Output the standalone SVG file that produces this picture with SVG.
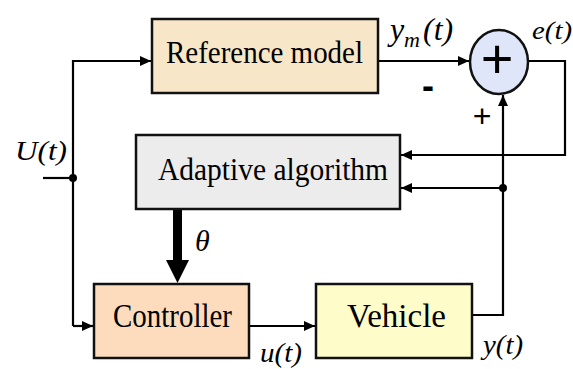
<svg xmlns="http://www.w3.org/2000/svg" width="573" height="369" viewBox="0 0 573 369">
<defs>
<style>
.box{stroke:#111;stroke-width:2.5}
.ln{fill:none;stroke:#000;stroke-width:2.2}
text{fill:#000}
.sf{font-family:'Liberation Serif','Times New Roman',Tinos,'DejaVu Serif','Noto Serif',Times,serif}
.ss{font-family:'Liberation Sans',Arial,sans-serif}
</style>
<marker id="ah" markerUnits="userSpaceOnUse" markerWidth="12" markerHeight="10" refX="11" refY="5" orient="auto">
<path d="M0,0 L11,5 L0,10 Z" fill="#000"/>
</marker>
</defs>
<rect width="573" height="369" fill="#fff"/>
<g id="connectors">
<path class="ln" d="M43,178 H73"/>
<path class="ln" d="M73,326 V61 H151" marker-end="url(#ah)"/>
<path class="ln" d="M73,326 H93" marker-end="url(#ah)"/>
<path class="ln" d="M378,61 H469" marker-end="url(#ah)"/>
<path class="ln" d="M528,61 H565 V155 H401" marker-end="url(#ah)"/>
<path class="ln" d="M472,315 H503 V95" marker-end="url(#ah)"/>
<path class="ln" d="M503,188 H401" marker-end="url(#ah)"/>
<path class="ln" d="M249,326 H315" marker-end="url(#ah)"/>
<circle cx="73" cy="178" r="4" fill="#000"/>
<circle cx="503" cy="188" r="4" fill="#000"/>
<polygon points="173,209 182,209 182,260 189,260 177.5,283 166,260 173,260" fill="#000"/>
</g>
<g id="reference-model">
<rect class="box" x="152" y="19" width="226" height="74" fill="#f8e6c8"/>
<text class="sf" font-size="32" x="166" y="63" textLength="197" lengthAdjust="spacingAndGlyphs">Reference model</text>
</g>
<g id="sum">
<ellipse cx="499" cy="62" rx="29" ry="32" fill="#dfe6fa" stroke="#111" stroke-width="2.5"/>
<text class="ss" x="497" y="78" font-size="56" text-anchor="middle">+</text>
</g>
<g id="adaptive-algorithm">
<rect class="box" x="136" y="135" width="264" height="74" fill="#ececec"/>
<text class="sf" font-size="32" x="158" y="180" textLength="230" lengthAdjust="spacingAndGlyphs">Adaptive algorithm</text>
</g>
<g id="controller">
<rect class="box" x="94" y="284" width="155" height="74" fill="#fcdcbc"/>
<text class="sf" x="113" y="327" textLength="119" lengthAdjust="spacingAndGlyphs" font-size="33">Controller</text>
</g>
<g id="vehicle">
<rect class="box" x="316" y="284" width="156" height="74" fill="#fefcc8"/>
<text class="sf" x="347" y="327" textLength="99" lengthAdjust="spacingAndGlyphs" font-size="33">Vehicle</text>
</g>
<g id="labels" font-style="italic">
<text class="sf" x="15" y="160" font-size="28" textLength="52" lengthAdjust="spacingAndGlyphs">U(t)</text>
<text class="sf" x="390" y="40" font-size="32">y<tspan x="404" font-size="22" dy="7">m</tspan><tspan x="423" font-size="32" dy="-7">(t)</tspan></text>
<text class="sf" x="532" y="39" font-size="25" textLength="40" lengthAdjust="spacingAndGlyphs">e(t)</text>
<text class="ss" font-style="normal" x="428" y="98" font-size="36" font-weight="bold" text-anchor="middle">-</text>
<text class="ss" font-style="normal" x="482" y="127" font-size="32" text-anchor="middle">+</text>
<text class="sf" x="195" y="251" font-size="30">θ</text>
<text class="sf" x="260" y="362" font-size="27" textLength="42" lengthAdjust="spacingAndGlyphs">u(t)</text>
<text class="sf" x="483" y="354" font-size="27" textLength="40" lengthAdjust="spacingAndGlyphs">y(t)</text>
</g>
</svg>
